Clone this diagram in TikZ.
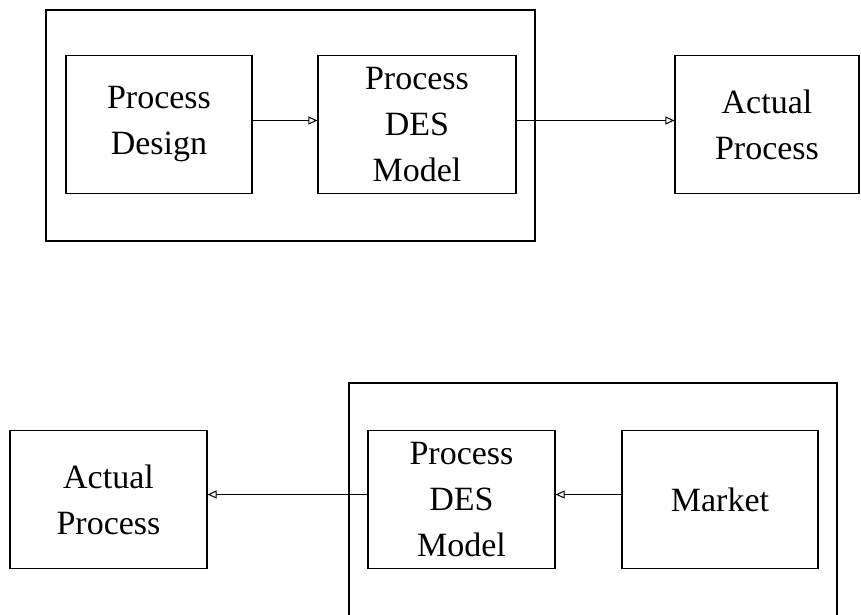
\documentclass[tikz,border=0pt]{standalone}
\usepackage{fontspec}
\setmainfont{Liberation Serif}
\usetikzlibrary{arrows.meta}

\begin{document}
\begin{tikzpicture}[x=1pt, y=1pt, >={Triangle[open, length=9pt, width=8pt]}, line width=1.2pt, node distance=258pt, box/.style={rectangle, draw, minimum width=192pt, minimum height=138pt, align=center, font=\fontsize{34}{46}\selectfont}]
	\useasboundingbox (0,0) rectangle (861,614);
	% top: design side
	\node[box, minimum width=186pt] (PD) at (159,489.5) {Process\\Design};
	\node[box, minimum width=198pt] (DES1) [right of=PD] {Process\\DES\\Model};
	\node[box, minimum width=184pt] (AP1) [right of=DES1, node distance=350pt] {Actual\\Process};
	\draw (46,604) rectangle (535,373);
	% bottom: market side
	\node[box, minimum width=197pt] (AP2) at (108.5,114.5) {Actual\\Process};
	\node[box, minimum width=187pt] (DES2) [right of=AP2, node distance=353pt] {Process\\DES\\Model};
	\node[box, minimum width=196pt] (MK) [right of=DES2, node distance=258.5pt] {Market};
	\draw (349,231) rectangle (837,-5);
	\path[->, line width=1pt]
		([yshift=4pt]PD.east) edge ([yshift=4pt]DES1.west)
		([yshift=4pt]DES1.east) edge ([yshift=4pt]AP1.west)
		([yshift=5pt]MK.west) edge ([yshift=5pt]DES2.east)
		([yshift=5pt]DES2.west) edge ([yshift=5pt]AP2.east);
\end{tikzpicture}
\end{document}
